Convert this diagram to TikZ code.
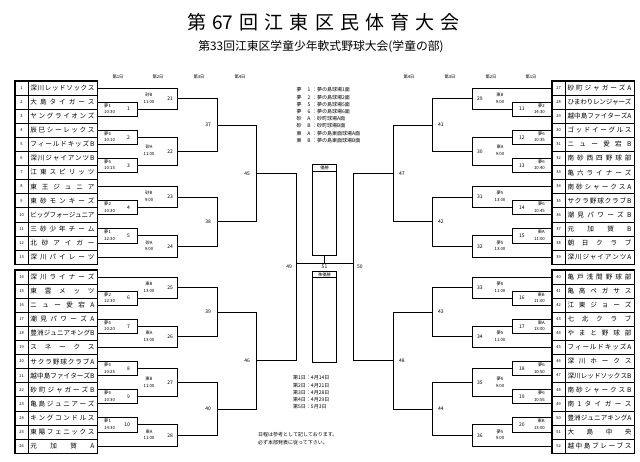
\documentclass[tikz,border=0pt]{standalone}
\usepackage{fontspec}
\setmainfont{Noto Sans CJK JP}
\usetikzlibrary{calc}

% spread the characters of a text over a given width
\newcommand\spread[2]{\hbox to #1{\spaceskip=0pt plus 1fil minus 1fil\relax\ignorespaces#2\unskip}}
% bracket: name of the match, upper input, lower input, column of the vertical
\newcommand\bkt[4]{%
  \draw[bline] (#2) -- (#2 -| #4) -- (#3 -| #4) -- (#3);
  \coordinate (#1) at ($(#2 -| #4)!.5!(#3 -| #4)$);
}

\tikzset{
  bline/.style={line width=0.7pt},
  team/.style={draw, line width=0.5pt, minimum width=69pt, minimum height=14.08pt, inner sep=0pt, font=\fontsize{6.6}{7}\selectfont},
  tno/.style={draw, line width=0.5pt, minimum width=13pt, minimum height=14.08pt, inner sep=0pt, font=\fontsize{4}{5}\selectfont},
  mno/.style={inner sep=0pt, font=\fontsize{5}{6}\selectfont},
  slot/.style={inner sep=0pt, font=\fontsize{4.3}{5}\selectfont},
  day/.style={inner sep=0pt, font=\fontsize{4.3}{5}\selectfont},
  note/.style={inner sep=0pt, anchor=west, font=\fontsize{5}{6}\selectfont},
  cup/.style={draw, line width=0.7pt, minimum width=24pt, minimum height=91pt, inner sep=0pt},
  cuphead/.style={draw, line width=0.7pt, minimum width=24pt, minimum height=6.5pt, inner sep=0pt, font=\fontsize{4.2}{5}\selectfont},
}

\begin{document}
\begin{tikzpicture}[x=1pt, y=-1pt]
  \useasboundingbox (0,0) rectangle (640,462);

  % Titel
  \node (title) at (323.5,22) {\fontsize{19}{20}\selectfont\spread{273pt}{第 67 回 江 東 区 民 体 育 大 会}};
  \node (sub) at (321,47) {\fontsize{11.8}{12}\selectfont 第33回江東区学童少年軟式野球大会(学童の部)};

  % Spieltage
  \foreach \x/\d in {118/1,158/2,199/3,240/4,409/4,450/3,491/2,531/1}
    \node[day] (dh\x) at (\x,77) {第\d{}日};

  % Mannschaften links
  \foreach \nm [count=\i] in {深 川 レ ッ ド ソ ッ ク ス,大 島 タ イ ガ ー ス,ヤ ン グ ラ イ オ ン ズ,辰 巳 シ ー レ ッ ク ス,フ ィ ー ル ド キ ッ ズ B,深 川 ジ ャ イ ア ン ツ B,江 東 ス ピ リ ッ ツ,東 王 ジ ュ ニ ア,東 砂 モ ン キ ー ズ,ビ ッ グ フ ォ ー ジ ュ ニ ア,三 砂 少 年 チ ー ム,北 砂 ア イ ガ ー,深 川 パ イ レ ー ツ,深 川 ラ イ ナ ー ズ,東 雲 メ ッ ツ,ニ ュ ー 愛 宕 A,潮 見 パ ワ ー ズ A,豊 洲 ジ ュ ニ ア キ ン グ B,ス ネ ー ク ス,サ ク ラ 野 球 ク ラ ブ A,越 中 島 フ ァ イ タ ー ズ B,砂 町 ジ ャ ガ ー ズ B,亀 島 ジ ュ ニ ア ー ズ,キ ン グ コ ン ド ル ス,東 陽 フ ェ ニ ッ ク ス,元 加 賀 A}{
    \pgfmathsetmacro\yy{\i<14 ? 88+(\i-1)*14.08 : 277+(\i-14)*14.08}
    \node[tno] (n\i) at (21.5,\yy) {\i};
    \node[team] (t\i) at (62.5,\yy) {\spread{64pt}{\nm}};
  }
  % Mannschaften rechts
  \foreach \nm [count=\i from 27] in {砂 町 ジ ャ ガ ー ズ A,ひ ま わ り レ ン ジ ャ ー ズ,越 中 島 フ ァ イ タ ー ズ A,ゴ ッ ド イ ー グ ル ス,ニ ュ ー 愛 宕 B,南 砂 西 四 野 球 部,亀 六 ラ イ ナ ー ズ,南 砂 シ ャ ー ク ス A,サ ク ラ 野 球 ク ラ ブ B,潮 見 パ ワ ー ズ B,元 加 賀 B,朝 日 ク ラ ブ,深 川 ジ ャ イ ア ン ツ A,亀 戸 浅 間 野 球 部,亀 高 ペ ガ サ ス,江 東 ジ ョ ー ズ,七 北 ク ラ ブ,や ま と 野 球 部,フ ィ ー ル ド キ ッ ズ A,深 川 ホ ー ク ス,深 川 レ ッ ド ソ ッ ク ス B,南 砂 シ ャ ー ク ス B,南 1 タ イ ガ ー ス,豊 洲 ジ ュ ニ ア キ ン グ A,大 島 中 央,越 中 島 ブ レ ー ブ ス}{
    \pgfmathsetmacro\yy{\i<40 ? 88+(\i-27)*14.08 : 277+(\i-40)*14.08}
    \node[tno] (n\i) at (558.5,\yy) {\i};
    \node[team] (t\i) at (599.5,\yy) {\spread{64pt}{\nm}};
  }
  \draw[line width=1pt] (n1.north west) rectangle (t13.south east);
  \draw[line width=1pt] (n14.north west) rectangle (t26.south east);
  \draw[line width=1pt] (n27.north west) rectangle (t39.south east);
  \draw[line width=1pt] (n40.north west) rectangle (t52.south east);

  % Spalten der Klammern
  \foreach \c/\x in {L1/137,L2/177,L3/217,L4/256,L5/296,R1/512,R2/472,R3/432,R4/393,R5/353}
    \coordinate (\c) at (\x,0);

  % linke Seite
  \bkt{m1}{t2.east}{t3.east}{L1}
  \bkt{m2}{t4.east}{t5.east}{L1}
  \bkt{m3}{t6.east}{t7.east}{L1}
  \bkt{m4}{t9.east}{t10.east}{L1}
  \bkt{m5}{t11.east}{t12.east}{L1}
  \bkt{m6}{t15.east}{t16.east}{L1}
  \bkt{m7}{t17.east}{t18.east}{L1}
  \bkt{m8}{t20.east}{t21.east}{L1}
  \bkt{m9}{t22.east}{t23.east}{L1}
  \bkt{m10}{t24.east}{t25.east}{L1}
  \bkt{m21}{t1.east}{m1}{L2}
  \bkt{m22}{m2}{m3}{L2}
  \bkt{m23}{t8.east}{m4}{L2}
  \bkt{m24}{m5}{t13.east}{L2}
  \bkt{m25}{t14.east}{m6}{L2}
  \bkt{m26}{m7}{t19.east}{L2}
  \bkt{m27}{m8}{m9}{L2}
  \bkt{m28}{m10}{t26.east}{L2}
  \bkt{m37}{m21}{m22}{L3}
  \bkt{m38}{m23}{m24}{L3}
  \bkt{m39}{m25}{m26}{L3}
  \bkt{m40}{m27}{m28}{L3}
  \bkt{m45}{m37}{m38}{L4}
  \bkt{m46}{m39}{m40}{L4}
  \bkt{m49}{m45}{m46}{L5}

  % rechte Seite
  \bkt{m11}{n28.west}{n29.west}{R1}
  \bkt{m12}{n30.west}{n31.west}{R1}
  \bkt{m13}{n32.west}{n33.west}{R1}
  \bkt{m14}{n35.west}{n36.west}{R1}
  \bkt{m15}{n37.west}{n38.west}{R1}
  \bkt{m16}{n41.west}{n42.west}{R1}
  \bkt{m17}{n43.west}{n44.west}{R1}
  \bkt{m18}{n46.west}{n47.west}{R1}
  \bkt{m19}{n48.west}{n49.west}{R1}
  \bkt{m20}{n50.west}{n51.west}{R1}
  \bkt{m29}{n27.west}{m11}{R2}
  \bkt{m30}{m12}{m13}{R2}
  \bkt{m31}{n34.west}{m14}{R2}
  \bkt{m32}{m15}{n39.west}{R2}
  \bkt{m33}{n40.west}{m16}{R2}
  \bkt{m34}{m17}{n45.west}{R2}
  \bkt{m35}{m18}{m19}{R2}
  \bkt{m36}{m20}{n52.west}{R2}
  \bkt{m41}{m29}{m30}{R3}
  \bkt{m42}{m31}{m32}{R3}
  \bkt{m43}{m33}{m34}{R3}
  \bkt{m44}{m35}{m36}{R3}
  \bkt{m47}{m41}{m42}{R4}
  \bkt{m48}{m43}{m44}{R4}
  \bkt{m50}{m47}{m48}{R5}

  % Finale
  \coordinate (fin) at (324.5,263);
  \draw[bline] (fin -| L5) -- (fin -| R5);
  \node[cup, anchor=south] (champ) at ([yshift=7pt]fin) {};
  \node[cuphead, anchor=north] (champh) at (champ.north) {優勝};
  \draw[bline] (champ.south) -- (fin);
  \node[cup, anchor=north] (second) at ([yshift=-8pt]fin) {};
  \node[cuphead, anchor=north] (secondh) at (second.north) {準優勝};
  \node[mno, anchor=north] (no51) at ([yshift=-1.5pt]fin) {51};
  \node[mno, anchor=east] (no49) at ([xshift=-4pt]m49) {49};
  \node[mno, anchor=west] (no50) at ([xshift=4pt]m50) {50};

  % Spielnummern, Platz und Zeit
  \foreach \m/\vn/\tm in {1/夢1/10:30,2/夢6/10:10,3/夢6/10:15,4/夢2/10:30,5/夢1/12:30,6/夢2/12:30,7/夢6/10:20,8/夢6/10:25,9/夢6/10:30,10/夢1/14:30}{
    \node[mno, anchor=east] (no\m) at ([xshift=-7pt]m\m) {\m};
    \node[slot, anchor=west] (pl\m) at ([xshift=-33pt,yshift=3.5pt]m\m) {\vn};
    \node[slot, anchor=west] (tm\m) at ([xshift=-33pt,yshift=-3pt]m\m) {\tm};
  }
  \foreach \m/\vn/\tm in {11/夢2/14:30,12/夢6/10:35,13/夢6/10:40,14/夢6/10:45,15/東A/11:00,16/東B/11:00,17/東A/13:00,18/夢6/10:50,19/夢6/10:55,20/東B/13:00}{
    \node[mno, anchor=west] (no\m) at ([xshift=7pt]m\m) {\m};
    \node[slot, anchor=east] (pl\m) at ([xshift=33pt,yshift=3.5pt]m\m) {\vn};
    \node[slot, anchor=east] (tm\m) at ([xshift=33pt,yshift=-3pt]m\m) {\tm};
  }
  \foreach \m/\vn/\tm in {21/砂B/11:00,22/砂A/11:00,23/砂B/9:00,24/砂A/9:00,25/東B/13:00,26/東A/13:00,27/東B/11:00,28/東A/11:00}{
    \node[mno, anchor=east] (no\m) at ([xshift=-4pt]m\m) {\m};
    \node[slot] (pl\m) at ([xshift=-28pt,yshift=4pt]m\m) {\vn};
    \node[slot] (tm\m) at ([xshift=-28pt,yshift=-3pt]m\m) {\tm};
  }
  \foreach \m/\vn/\tm in {29/東B/9:00,30/東A/9:00,31/夢5/13:00,32/夢5/13:00,33/夢6/11:00,34/夢5/11:00,35/夢6/9:00,36/夢5/9:00}{
    \node[mno, anchor=west] (no\m) at ([xshift=5pt]m\m) {\m};
    \node[slot] (pl\m) at ([xshift=28pt,yshift=4pt]m\m) {\vn};
    \node[slot] (tm\m) at ([xshift=28pt,yshift=-3pt]m\m) {\tm};
  }
  \foreach \m in {37,38,39,40,45,46}
    \node[mno, anchor=east] (no\m) at ([xshift=-6pt]m\m) {\m};
  \foreach \m in {41,42,43,44,47,48}
    \node[mno, anchor=west] (no\m) at ([xshift=6pt]m\m) {\m};

  % Plaetze
  \foreach \k/\a/\b/\c in {0/夢/1/夢の島球場1面,1/夢/2/夢の島球場2面,2/夢/5/夢の島球場5面,3/夢/6/夢の島球場6面,4/砂/A/砂町球場A面,5/砂/B/砂町球場B面,6/東/A/夢の島東面球場A面,7/東/B/夢の島東面球場B面}{
    \node[note, anchor=center] (lga\k) at (299,90+7.2*\k) {\a};
    \node[note, anchor=center] (lgb\k) at (309,90+7.2*\k) {\b};
    \node[note] (lgc\k) at (312,90+7.2*\k) {：\c};
  }

  % Termine
  \foreach \k/\d in {1/4月14日,2/4月21日,3/4月28日,4/4月29日,5/5月3日}
    \node[note] (dt\k) at (293,370.9+7.1*\k) {第\k{}日：\d};
  \node[note] (hint1) at (258,435) {日程は参考として記しております。};
  \node[note] (hint2) at (258,443) {必ず本部発表に従って下さい。};
\end{tikzpicture}
\end{document}
